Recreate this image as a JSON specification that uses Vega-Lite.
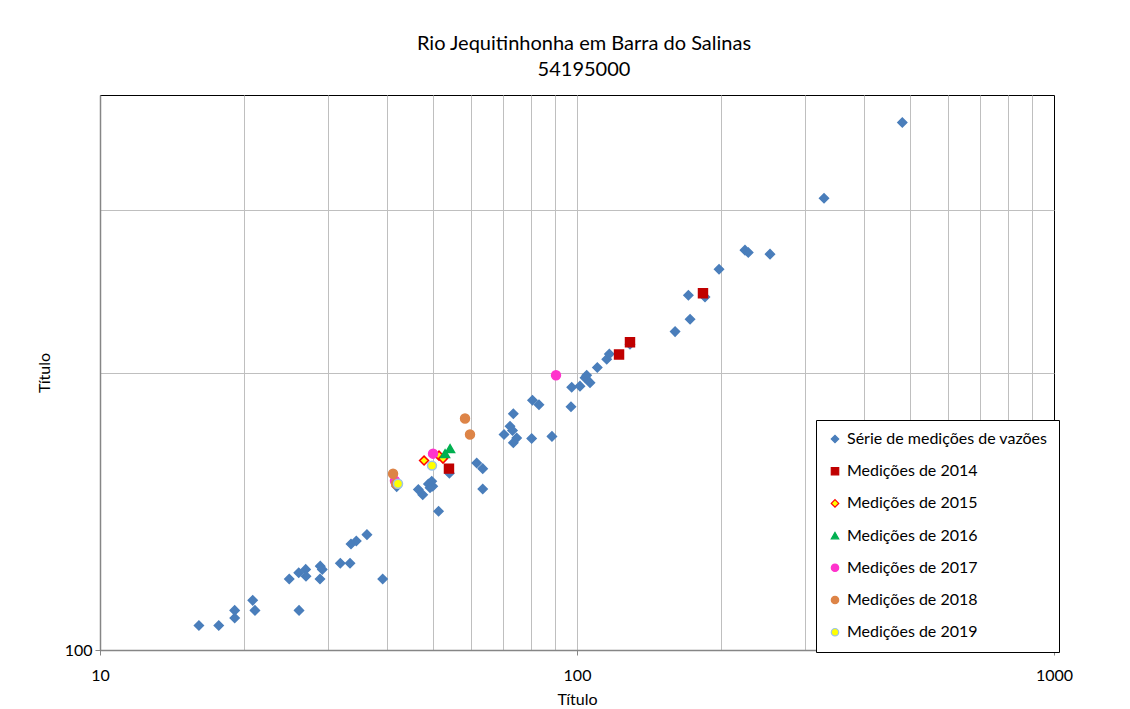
{
  "$schema": "https://vega.github.io/schema/vega-lite/v6.json",
  "width": 954,
  "height": 555,
  "autosize": "none",
  "padding": {"left": 100, "top": 95, "right": 76, "bottom": 59},
  "background": "white",
  "title": {
    "text": ["Rio Jequitinhonha em Barra do Salinas", "54195000"],
    "font": "Lato",
    "fontSize": 20,
    "fontWeight": "normal",
    "color": "#000000",
    "anchor": "middle",
    "lineHeight": 26,
    "offset": 7,
    "dx": 7
  },
  "config": {
    "view": {"stroke": "#000000", "strokeWidth": 1},
    "font": "Lato"
  },
  "data": {
    "values": [
      {"serie": "Série de medições de vazões", "q": 16.12, "h": 106.3},
      {"serie": "Série de medições de vazões", "q": 17.74, "h": 106.3},
      {"serie": "Série de medições de vazões", "q": 19.16, "h": 108.3},
      {"serie": "Série de medições de vazões", "q": 19.16, "h": 110.4},
      {"serie": "Série de medições de vazões", "q": 20.9, "h": 113.2},
      {"serie": "Série de medições de vazões", "q": 21.13, "h": 110.4},
      {"serie": "Série de medições de vazões", "q": 24.93, "h": 119.4},
      {"serie": "Série de medições de vazões", "q": 26.1, "h": 121.3},
      {"serie": "Série de medições de vazões", "q": 26.99, "h": 122.3},
      {"serie": "Série de medições de vazões", "q": 27.03, "h": 120.2},
      {"serie": "Série de medições de vazões", "q": 26.14, "h": 110.4},
      {"serie": "Série de medições de vazões", "q": 28.96, "h": 123.3},
      {"serie": "Série de medições de vazões", "q": 29.24, "h": 122.3},
      {"serie": "Série de medições de vazões", "q": 28.92, "h": 119.4},
      {"serie": "Série de medições de vazões", "q": 31.9, "h": 124.2},
      {"serie": "Série de medições de vazões", "q": 33.43, "h": 124.2},
      {"serie": "Série de medições de vazões", "q": 33.59, "h": 130.3},
      {"serie": "Série de medições de vazões", "q": 34.46, "h": 131.3},
      {"serie": "Série de medições de vazões", "q": 36.28, "h": 133.4},
      {"serie": "Série de medições de vazões", "q": 39.14, "h": 119.4},
      {"serie": "Série de medições de vazões", "q": 41.88, "h": 150.4},
      {"serie": "Série de medições de vazões", "q": 46.49, "h": 149.3},
      {"serie": "Série de medições de vazões", "q": 47.49, "h": 147.4},
      {"serie": "Série de medições de vazões", "q": 48.8, "h": 151.4},
      {"serie": "Série de medições de vazões", "q": 49.6, "h": 152.4},
      {"serie": "Série de medições de vazões", "q": 49.84, "h": 150.5},
      {"serie": "Série de medições de vazões", "q": 49.19, "h": 150.0},
      {"serie": "Série de medições de vazões", "q": 51.26, "h": 141.4},
      {"serie": "Série de medições de vazões", "q": 54.01, "h": 155.5},
      {"serie": "Série de medições de vazões", "q": 61.62, "h": 159.5},
      {"serie": "Série de medições de vazões", "q": 63.44, "h": 157.3},
      {"serie": "Série de medições de vazões", "q": 63.44, "h": 149.5},
      {"serie": "Série de medições de vazões", "q": 70.31, "h": 171.3},
      {"serie": "Série de medições de vazões", "q": 72.37, "h": 174.9},
      {"serie": "Série de medições de vazões", "q": 73.25, "h": 173.0},
      {"serie": "Série de medições de vazões", "q": 73.54, "h": 180.4},
      {"serie": "Série de medições de vazões", "q": 74.75, "h": 169.8},
      {"serie": "Série de medições de vazões", "q": 73.54, "h": 167.8},
      {"serie": "Série de medições de vazões", "q": 80.35, "h": 169.6},
      {"serie": "Série de medições de vazões", "q": 80.66, "h": 186.6},
      {"serie": "Série de medições de vazões", "q": 83.23, "h": 184.5},
      {"serie": "Série de medições de vazões", "q": 88.62, "h": 170.5},
      {"serie": "Série de medições de vazões", "q": 97.14, "h": 183.6},
      {"serie": "Série de medições de vazões", "q": 97.47, "h": 192.8},
      {"serie": "Série de medições de vazões", "q": 101.45, "h": 193.3},
      {"serie": "Série de medições de vazões", "q": 103.94, "h": 197.4},
      {"serie": "Série de medições de vazões", "q": 104.79, "h": 198.6},
      {"serie": "Série de medições de vazões", "q": 106.49, "h": 195.0},
      {"serie": "Série de medições de vazões", "q": 110.3, "h": 202.5},
      {"serie": "Série de medições de vazões", "q": 115.43, "h": 206.7},
      {"serie": "Série de medições de vazões", "q": 116.88, "h": 209.4},
      {"serie": "Série de medições de vazões", "q": 129.15, "h": 214.6},
      {"serie": "Série de medições de vazões", "q": 160.55, "h": 221.5},
      {"serie": "Série de medições de vazões", "q": 171.2, "h": 242.6},
      {"serie": "Série de medições de vazões", "q": 172.6, "h": 228.5},
      {"serie": "Série de medições de vazões", "q": 185.5, "h": 241.5},
      {"serie": "Série de medições de vazões", "q": 198.5, "h": 258.8},
      {"serie": "Série de medições de vazões", "q": 225.0, "h": 271.5},
      {"serie": "Série de medições de vazões", "q": 228.6, "h": 269.9},
      {"serie": "Série de medições de vazões", "q": 253.9, "h": 268.8},
      {"serie": "Série de medições de vazões", "q": 329.5, "h": 309.0},
      {"serie": "Série de medições de vazões", "q": 480.8, "h": 373.4},
      {"serie": "Medições de 2014", "q": 53.9, "h": 157.3},
      {"serie": "Medições de 2014", "q": 122.5, "h": 209.2},
      {"serie": "Medições de 2014", "q": 129.15, "h": 215.7},
      {"serie": "Medições de 2014", "q": 183.7, "h": 243.8},
      {"serie": "Medições de 2015", "q": 47.79, "h": 160.5},
      {"serie": "Medições de 2015", "q": 51.37, "h": 162.5},
      {"serie": "Medições de 2015", "q": 52.37, "h": 161.3},
      {"serie": "Medições de 2016", "q": 54.19, "h": 165.4},
      {"serie": "Medições de 2016", "q": 52.89, "h": 163.3},
      {"serie": "Medições de 2017", "q": 49.91, "h": 163.3},
      {"serie": "Medições de 2017", "q": 41.53, "h": 152.6},
      {"serie": "Medições de 2017", "q": 90.36, "h": 198.6},
      {"serie": "Medições de 2018", "q": 58.24, "h": 178.3},
      {"serie": "Medições de 2018", "q": 59.66, "h": 171.3},
      {"serie": "Medições de 2018", "q": 41.15, "h": 155.3},
      {"serie": "Medições de 2018", "q": 41.74, "h": 151.5},
      {"serie": "Medições de 2019", "q": 49.66, "h": 158.5},
      {"serie": "Medições de 2019", "q": 42.15, "h": 151.5}
    ]
  },
  "mark": {"type": "point", "filled": true, "opacity": 1, "strokeWidth": 1.5, "size": 80},
  "encoding": {
    "x": {
      "field": "q",
      "type": "quantitative",
      "scale": {"type": "log", "domain": [10, 1000], "nice": false},
      "axis": {
        "title": "Título",
        "titleFont": "Lato",
        "titleFontSize": 16,
        "titleFontWeight": "normal",
        "titleColor": "#000000",
        "titlePadding": 8,
        "values": [10, 20, 30, 40, 50, 60, 70, 80, 90, 100, 200, 300, 400, 500, 600, 700, 800, 900, 1000],
        "labelExpr": "indexof([10, 100, 1000], datum.value) >= 0 ? format(datum.value, 'd') : ''",
        "labelFont": "Lato",
        "labelFontSize": 16,
        "labelColor": "#000000",
        "labelPadding": 12,
        "labelFlush": false,
        "labelOverlap": false,
        "tickSize": 5,
        "tickColor": "#868686",
        "tickOpacity": {"condition": {"test": "indexof([10, 100, 1000], datum.value) >= 0", "value": 1}, "value": 0},
        "domainColor": "#868686",
        "domainWidth": 1.5,
        "gridColor": "#bfbfbf",
        "gridWidth": 1,
        "gridOpacity": {"condition": {"test": "datum.value == 1000 || datum.value == 10", "value": 0}, "value": 1}
      }
    },
    "y": {
      "field": "h",
      "type": "quantitative",
      "scale": {"type": "log", "domain": [100, 400], "nice": false},
      "axis": {
        "title": "Título",
        "titleFont": "Lato",
        "titleFontSize": 16,
        "titleFontWeight": "normal",
        "titleColor": "#000000",
        "titlePadding": 12,
        "values": [100, 200, 300, 400],
        "labelExpr": "datum.value == 100 ? '100' : ''",
        "labelFont": "Lato",
        "labelFontSize": 16,
        "labelColor": "#000000",
        "labelPadding": 3,
        "labelFlush": false,
        "labelOverlap": false,
        "tickSize": 5,
        "tickColor": "#868686",
        "tickOpacity": {"condition": {"test": "datum.value == 100", "value": 1}, "value": 0},
        "domainColor": "#868686",
        "domainWidth": 1.5,
        "gridColor": "#bfbfbf",
        "gridWidth": 1,
        "gridOpacity": {"condition": {"test": "datum.value == 400 || datum.value == 100", "value": 0}, "value": 1}
      }
    },
    "fill": {
      "field": "serie",
      "type": "nominal",
      "scale": {
        "domain": ["Série de medições de vazões", "Medições de 2014", "Medições de 2015", "Medições de 2016", "Medições de 2017", "Medições de 2018", "Medições de 2019"],
        "range": ["#4a7ebb", "#c00000", "#ffff00", "#00b050", "#ff33cc", "#dd8447", "#ffff00"]
      },
      "legend": {
        "title": null,
        "orient": "none",
        "legendX": 716,
        "legendY": 325,
        "direction": "vertical",
        "strokeColor": "#000000",
        "fillColor": "#ffffff",
        "padding": 11,
        "labelFont": "Lato",
        "labelFontSize": 16,
        "labelColor": "#000000",
        "labelLimit": 300,
        "symbolSize": 55,
        "symbolStrokeWidth": 1.2,
        "rowPadding": 16.2,
        "labelOffset": 4
      }
    },
    "stroke": {
      "field": "serie",
      "type": "nominal",
      "scale": {
        "domain": ["Série de medições de vazões", "Medições de 2014", "Medições de 2015", "Medições de 2016", "Medições de 2017", "Medições de 2018", "Medições de 2019"],
        "range": ["#4a7ebb", "#c00000", "#ff0000", "#00b050", "#ff33cc", "#dd8447", "#9dc3e6"]
      }
    },
    "shape": {
      "field": "serie",
      "type": "nominal",
      "scale": {
        "domain": ["Série de medições de vazões", "Medições de 2014", "Medições de 2015", "Medições de 2016", "Medições de 2017", "Medições de 2018", "Medições de 2019"],
        "range": ["diamond", "square", "diamond", "triangle-up", "circle", "circle", "circle"]
      }
    }
  }
}
